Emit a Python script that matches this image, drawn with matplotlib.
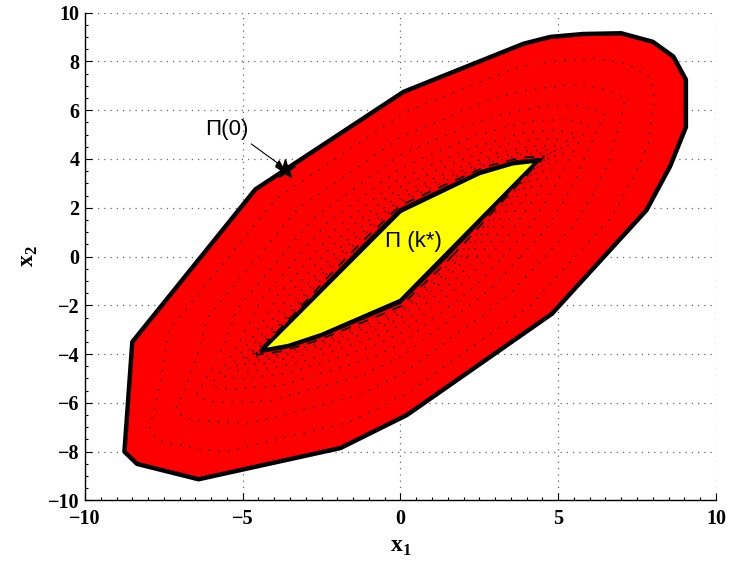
import numpy as np
import matplotlib
matplotlib.use('Agg')
import matplotlib.pyplot as plt
from matplotlib.ticker import MultipleLocator

# outer set Pi(0), vertices
outer_x = [-8.5, -8.75, -8.35, -6.4, -1.9, 0.2, 4.8, 7.8, 8.55, 9.05, 9.05, 8.65, 8.0, 7.0, 5.8, 4.75, 3.9, 0.1, -4.6]
outer_y = [-3.5, -8.0, -8.5, -9.13, -7.85, -6.5, -2.35, 1.9, 3.7, 5.3, 7.25, 8.2, 8.8, 9.15, 9.12, 9.0, 8.72, 6.75, 2.75]

# final set Pi(k*)
inner_x = [-4.4, -3.55, -2.5, 0.0, 4.35, 3.55, 2.5, 0.0]
inner_y = [-3.85, -3.65, -3.2, -1.8, 3.92, 3.8, 3.4, 1.85]

# relative position of the intermediate sets between Pi(k*) (0) and Pi(0) (1)
dotted_levels = [0.82, 0.63, 0.48, 0.37, 0.28, 0.21, 0.15, 0.11, 0.08]
dashed_level = 0.05
thin_level = 0.022

star_pt = (-3.65, 3.6)


def ray_radius(xs, ys, angles):
    px = np.append(xs, xs[0])
    py = np.append(ys, ys[0])
    dx = np.cos(angles)
    dy = np.sin(angles)
    r = np.full(len(angles), np.inf)
    for i in range(len(xs)):
        ax_, ay_ = px[i], py[i]
        ex, ey = px[i + 1] - ax_, py[i + 1] - ay_
        den = dx * ey - dy * ex
        with np.errstate(divide='ignore', invalid='ignore'):
            t = (ax_ * ey - ay_ * ex) / den
            s = (ax_ * dy - ay_ * dx) / den
        ok = (den != 0) & (t > 0) & (s >= -1e-9) & (s <= 1 + 1e-9)
        r = np.where(ok & (t < r), t, r)
    return r


ang = np.linspace(0, 2 * np.pi, 721)
r_out = ray_radius(outer_x, outer_y, ang)
r_in = ray_radius(inner_x, inner_y, ang)


def level_curve(lev):
    r = r_in + lev * (r_out - r_in)
    return r * np.cos(ang), r * np.sin(ang)


plt.rcParams['mathtext.fontset'] = 'custom'
plt.rcParams['mathtext.bf'] = 'Liberation Serif:bold'
plt.rcParams['mathtext.rm'] = 'Liberation Serif'

fig = plt.figure(figsize=(7.29, 5.69), dpi=100)
ax = fig.add_axes([0.1166, 0.1204, 0.8654, 0.8576])

ax.fill(outer_x, outer_y, facecolor='#ff0000', edgecolor='black', lw=3.2, joinstyle='round', zorder=2)

for lev in dotted_levels:
    cx, cy = level_curve(lev)
    ax.plot(cx, cy, color='black', lw=1.0, linestyle=(0, (1, 6)), zorder=3)

cx, cy = level_curve(dashed_level)
ax.plot(cx, cy, color='black', lw=1.2, linestyle=(0, (6, 5)), zorder=3)
cx, cy = level_curve(thin_level)
ax.plot(cx, cy, color='black', lw=1.3, zorder=3)

ax.fill(inner_x, inner_y, facecolor='#ffff00', edgecolor='black', lw=2.6, joinstyle='round', zorder=4)

# labels inside the plot
ax.text(-5.5, 5.2, 'Π(0)', fontsize=16, family='Liberation Sans', ha='center', va='center', zorder=6)
ax.text(0.4, 0.6, 'Π (k*)', fontsize=16, family='Liberation Sans', ha='center', va='center', zorder=6)
ax.annotate('', xy=star_pt, xytext=(-4.8, 4.68),
            arrowprops=dict(arrowstyle='-|>', lw=0.8, color='black', mutation_scale=10), zorder=6)
ax.plot([star_pt[0]], [star_pt[1]], marker='*', color='black', markersize=15, zorder=7)

ax.set_xlim(-10, 10)
ax.set_ylim(-10, 10)
ax.xaxis.set_major_locator(MultipleLocator(5))
ax.yaxis.set_major_locator(MultipleLocator(2))
ax.xaxis.set_minor_locator(MultipleLocator(0.5))
ax.yaxis.set_minor_locator(MultipleLocator(0.5))
ax.tick_params(which='both', direction='in', top=False, right=False, width=0.8, color='black')
ax.tick_params(which='major', length=5)
ax.tick_params(axis='x', which='major', pad=6)
ax.tick_params(axis='y', which='major', pad=4)
ax.tick_params(which='minor', length=2.5)
for lab in ax.get_xticklabels() + ax.get_yticklabels():
    lab.set_family('Liberation Serif')
    lab.set_fontweight('bold')
    lab.set_fontsize(14.5)

ax.grid(True, which='major', color='0.4', linestyle=(0, (1, 4)), lw=0.9)
ax.set_axisbelow(True)
ax.spines['top'].set_visible(False)
ax.spines['right'].set_visible(False)
ax.spines['left'].set_linewidth(1.0)
ax.spines['bottom'].set_linewidth(1.0)

ax.set_xlabel(r'$\mathbf{x}_\mathbf{1}$', fontsize=17, labelpad=4)
ax.set_ylabel(r'$\mathbf{x}_\mathbf{2}$', fontsize=17, labelpad=6)

fig.savefig('out.png', dpi=100)
